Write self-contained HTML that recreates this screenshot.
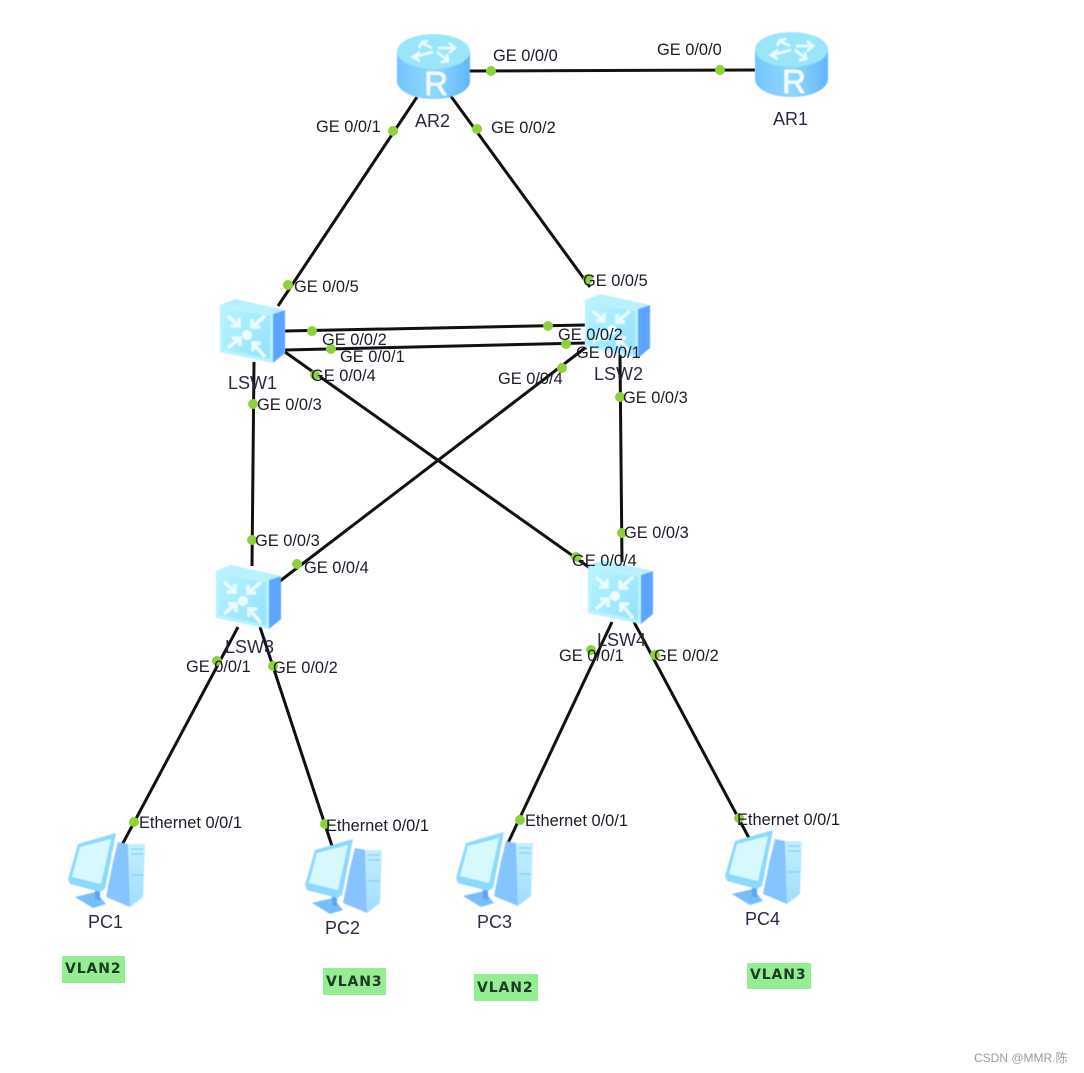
<!DOCTYPE html>
<html><head><meta charset="utf-8"><style>
html,body{margin:0;padding:0;background:#fff}
svg{display:block}
text{font-family:"Liberation Sans","Noto Sans CJK SC",sans-serif;font-size:16.4px;fill:#1c1c28}
.n{font-size:18px;fill:#2a2a44}
.v{font-weight:bold;letter-spacing:.9px;fill:#1d3a22;font-family:"DejaVu Sans",sans-serif;font-size:14px}
.l{stroke:#111;stroke-width:3;fill:none}
.d{fill:#8fd13b}
.g{fill:#95ec95}
</style></head><body>
<svg width="1084" height="1073" viewBox="0 0 1084 1073" xmlns="http://www.w3.org/2000/svg">
<defs>
<filter id="b" x="-10%" y="-10%" width="120%" height="120%"><feGaussianBlur stdDeviation="0.5"/></filter>
<linearGradient id="rg" x1="0" x2="1" y1="0" y2="0"><stop offset="0" stop-color="#74c4ff"/><stop offset=".5" stop-color="#8fd8ff"/><stop offset="1" stop-color="#62b6fb"/></linearGradient>
<linearGradient id="sg" x1="0" x2="1" y1="0" y2="1"><stop offset="0" stop-color="#b8f3ff"/><stop offset="1" stop-color="#92e0ff"/></linearGradient>
<linearGradient id="tg" x1="0" x2="0" y1="0" y2="1"><stop offset="0" stop-color="#c4efff"/><stop offset="1" stop-color="#a0dcff"/></linearGradient>
<symbol id="router" width="74" height="66" viewBox="0 0 74 66" overflow="visible">
<g filter="url(#b)">
<path d="M0 17V47C0 57 16 65 36.500 65S73 57 73 47V17Z" fill="url(#rg)"/>
<ellipse cx="36.500" cy="17.500" rx="36.500" ry="17.500" fill="#9be5fa"/>
<g stroke="#eafbff" stroke-width="2.600" fill="none"><path d="M35 14L25 9M22 14L25 8L31 7"/><path d="M41 14H57M52 9L58 14L52 19"/><path d="M36 18L17 23M23 18L16 23L23 27"/><path d="M40 18L50 26M44 28L51 27L50 20"/></g>
<text x="39" y="61" text-anchor="middle" style="font-size:33px;fill:#f6fdff;stroke:#f6fdff;stroke-width:.7px">R</text>
</g>
</symbol>
<symbol id="sw" width="67" height="66" viewBox="0 0 67 66" overflow="visible">
<g filter="url(#b)">
<path d="M53 16L65 12V55L53 65Z" fill="#5ba4ff"/>
<path d="M0 7L15 1L65 12L53 16Z" fill="#b8f0ff"/>
<path d="M0 7L53 16V65L0 54Z" fill="#b8f2ff"/>
<path d="M3 10L50 18V61L3 51Z" fill="url(#sg)"/>
<circle cx="27" cy="37" r="5" fill="#eefcff"/>
<g stroke="#eafbff" stroke-width="3.500" fill="none"><path d="M8 18L19 28M19 20V28H11"/><path d="M45 18L32 29M32 21V29H40"/><path d="M8 50L20 40M12 40H20V48"/><path d="M45 59L33 45M33 53V45H41"/></g>
</g>
</symbol>
<symbol id="pc" width="80" height="76" viewBox="0 0 80 76" overflow="visible">
<g filter="url(#b)">
<path d="M9 64L30 59L40 71L27 75Z" fill="#78bdfb"/>
<path d="M29 56L34 58V68L29 66Z" fill="#5fa2f5"/>
<path d="M62 11H79L77 64L64 74Z" fill="url(#tg)"/>
<path d="M52 9L62 11L64 74L40 64L47 29Z" fill="#86c4ff"/>
<path d="M2 46L12 11L50 0L39 56L34 59L4 51Z" fill="#8dd8ff"/>
<path d="M6 44L14 14L45 6L35 51Z" fill="#d8f8ff"/>
<path d="M65 16h12M65 21h12M65 42h12" stroke="#7fd0f4" stroke-width="1.300"/>
</g>
</symbol>
</defs>

<g class="l">
<path d="M469 71L755 70"/>
<path d="M417 97L278 306"/>
<path d="M450 95L590 287"/>
<path d="M285 331L585 325"/>
<path d="M285 350L585 343"/>
<path d="M285 352L590 568"/>
<path d="M585 348L280 581"/>
<path d="M254 362L252 566"/>
<path d="M620 355L622 562"/>
<path d="M238 627L122 845"/>
<path d="M260 627L332 846"/>
<path d="M612 622L508 843"/>
<path d="M634 622L749 838"/>
</g>

<use href="#router" x="397" y="34"/>
<use href="#router" x="755" y="32"/>
<use href="#sw" x="220" y="298"/>
<use href="#sw" x="585" y="293"/>
<use href="#sw" x="216" y="564"/>
<use href="#sw" x="588" y="559"/>
<use href="#pc" x="66" y="833"/>
<use href="#pc" x="303" y="839"/>
<use href="#pc" x="454" y="832"/>
<use href="#pc" x="723" y="830"/>

<path d="M620 355V378" stroke="#111" stroke-width="3"/>

<g class="d">
<circle cx="491" cy="71" r="5"/><circle cx="720" cy="70" r="5"/>
<circle cx="393" cy="131" r="5"/><circle cx="477" cy="129" r="5"/>
<circle cx="288" cy="285" r="5"/><circle cx="588" cy="279" r="5"/>
<circle cx="312" cy="331" r="5"/><circle cx="548" cy="326" r="5"/>
<circle cx="331" cy="349" r="5"/><circle cx="566" cy="344" r="5"/>
<circle cx="315" cy="375" r="5"/><circle cx="562" cy="368" r="5"/>
<circle cx="253" cy="404" r="5"/><circle cx="620" cy="397" r="5"/>
<circle cx="252" cy="540" r="5"/><circle cx="622" cy="533" r="5"/>
<circle cx="297" cy="564" r="5"/><circle cx="576" cy="557" r="5"/>
<circle cx="217" cy="661" r="5"/><circle cx="273" cy="666" r="5"/>
<circle cx="591" cy="650" r="5"/><circle cx="655" cy="655" r="5"/>
<circle cx="134" cy="822" r="5"/><circle cx="325" cy="824" r="5"/>
<circle cx="520" cy="820" r="5"/><circle cx="739" cy="818" r="5"/>
</g>

<text x="493" y="61">GE 0/0/0</text>
<text x="657" y="55">GE 0/0/0</text>
<text x="316" y="132">GE 0/0/1</text>
<text x="491" y="133">GE 0/0/2</text>
<text x="294" y="292">GE 0/0/5</text>
<text x="583" y="286">GE 0/0/5</text>
<text x="322" y="345">GE 0/0/2</text>
<text x="558" y="340">GE 0/0/2</text>
<text x="340" y="362">GE 0/0/1</text>
<text x="576" y="358">GE 0/0/1</text>
<text x="311" y="381">GE 0/0/4</text>
<text x="498" y="384">GE 0/0/4</text>
<text x="257" y="410">GE 0/0/3</text>
<text x="623" y="403">GE 0/0/3</text>
<text x="255" y="546">GE 0/0/3</text>
<text x="624" y="538">GE 0/0/3</text>
<text x="304" y="573">GE 0/0/4</text>
<text x="572" y="566">GE 0/0/4</text>
<text x="186" y="672">GE 0/0/1</text>
<text x="273" y="673">GE 0/0/2</text>
<text x="559" y="661">GE 0/0/1</text>
<text x="654" y="661">GE 0/0/2</text>
<text x="139" y="828">Ethernet 0/0/1</text>
<text x="326" y="831">Ethernet 0/0/1</text>
<text x="525" y="826">Ethernet 0/0/1</text>
<text x="737" y="825">Ethernet 0/0/1</text>

<text class="n" x="415" y="127">AR2</text>
<text class="n" x="773" y="125">AR1</text>
<text class="n" x="228" y="389">LSW1</text>
<text class="n" x="594" y="380">LSW2</text>
<text class="n" x="225" y="653">LSW3</text>
<text class="n" x="597" y="646">LSW4</text>
<text class="n" x="88" y="928">PC1</text>
<text class="n" x="325" y="934">PC2</text>
<text class="n" x="477" y="928">PC3</text>
<text class="n" x="745" y="925">PC4</text>

<rect class="g" x="62" y="956" width="63" height="27"/>
<rect class="g" x="323" y="968" width="63" height="27"/>
<rect class="g" x="474" y="974" width="64" height="27"/>
<rect class="g" x="747" y="963" width="64" height="26"/>
<text class="v" x="65" y="973">VLAN2</text>
<text class="v" x="326" y="986">VLAN3</text>
<text class="v" x="477" y="992">VLAN2</text>
<text class="v" x="750" y="979">VLAN3</text>

<text x="974" y="1062" style="font-size:12px;fill:#9a9a9a">CSDN @MMR.陈</text>
</svg>
</body></html>
